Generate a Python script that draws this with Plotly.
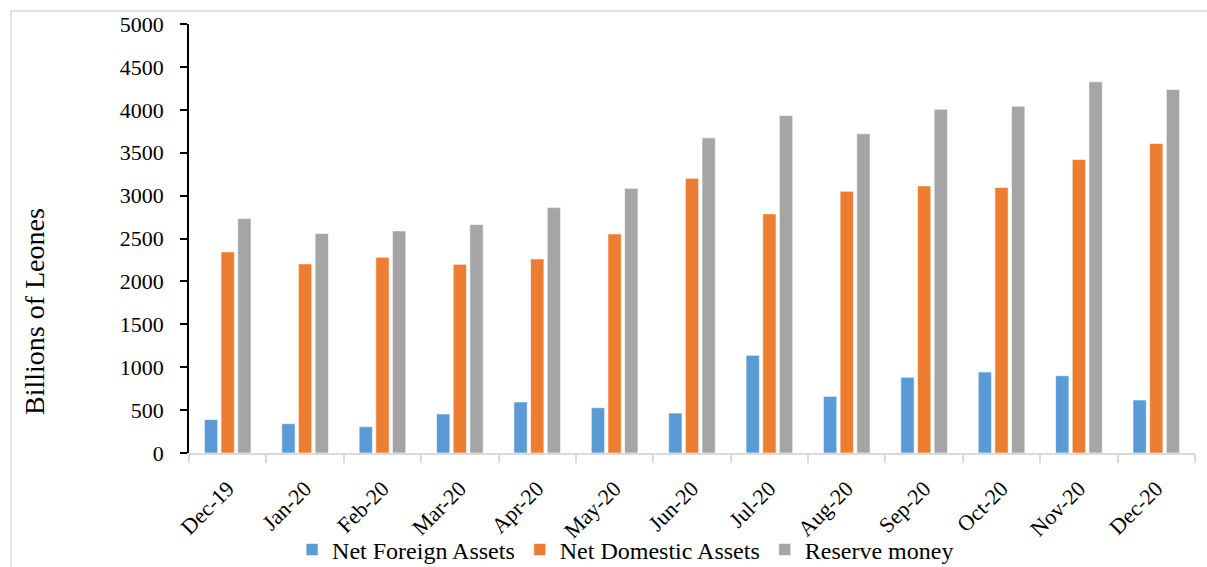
import plotly.graph_objects as go

months = ["Dec-19", "Jan-20", "Feb-20", "Mar-20", "Apr-20", "May-20", "Jun-20",
          "Jul-20", "Aug-20", "Sep-20", "Oct-20", "Nov-20", "Dec-20"]
net_foreign_assets = [390, 342, 307, 455, 595, 528, 466, 1138, 660, 882, 944, 901, 618]
net_domestic_assets = [2344, 2204, 2281, 2199, 2262, 2553, 3202, 2787, 3050, 3113, 3094, 3420, 3607]
reserve_money = [2732, 2557, 2588, 2662, 2860, 3085, 3673, 3933, 3720, 4007, 4042, 4326, 4236]

y_ticks = [0, 500, 1000, 1500, 2000, 2500, 3000, 3500, 4000, 4500, 5000]

FONT = "Liberation Serif, Times New Roman, serif"

series = [
    ("Net Foreign Assets", net_foreign_assets, "#5B9BD5"),
    ("Net Domestic Assets", net_domestic_assets, "#ED7D31"),
    ("Reserve money", reserve_money, "#A5A5A5"),
]

fig = go.Figure()
for name, vals, color in series:
    fig.add_trace(go.Bar(
        x=months, y=vals, name=name,
        marker=dict(color=color, line=dict(color="rgba(255,255,255,0.6)", width=1)),
    ))

W, H = 1207, 567
L, R, T, B = 189, 12, 24, 114
pw, ph = W - L - R, H - T - B

fig.update_layout(
    width=W, height=H,
    margin=dict(l=L, r=R, t=T, b=B, autoexpand=False),
    paper_bgcolor="white", plot_bgcolor="white",
    barmode="group", bargap=0.354, bargroupgap=0.2,
    font=dict(family=FONT, color="black", size=22),
    showlegend=True,
    legend=dict(
        orientation="h", x=0.434, xanchor="center", y=-0.226, yanchor="middle",
        font=dict(size=24, family=FONT), itemwidth=30, tracegroupgap=0,
        bgcolor="rgba(0,0,0,0)",
    ),
    xaxis=dict(
        type="category", automargin=False, showgrid=False, showline=True,
        linecolor="#D9D9D9", linewidth=2,
        ticks="outside", tickson="boundaries", ticklen=8, tickcolor="#D9D9D9", tickwidth=2,
        tickangle=-45, tickfont=dict(size=22, family=FONT), ticklabelstandoff=12,
    ),
    yaxis=dict(
        range=[0, 5000], tickvals=y_ticks, automargin=False, showgrid=False, zeroline=False,
        showline=True, linecolor="black", linewidth=1.5,
        ticks="outside", ticklen=7, tickcolor="black", tickwidth=1.5,
        tickfont=dict(size=22, family=FONT), ticklabelstandoff=12,
    ),
    annotations=[dict(
        text="Billions of Leones", xref="paper", yref="paper",
        x=(34 - L) / pw, y=(T + ph - 312) / ph, xanchor="center", yanchor="middle",
        textangle=-90, showarrow=False, font=dict(size=28, family=FONT, color="black"),
    )],
    shapes=[dict(
        type="rect", xref="paper", yref="paper",
        x0=(11 - L) / pw, x1=(W + 5 - L) / pw,
        y0=-(H + 5 - T - ph) / ph, y1=1 + (T - 11) / ph,
        line=dict(color="#D9D9D9", width=1.5), layer="below",
    )],
)

fig.write_html("out.html")
